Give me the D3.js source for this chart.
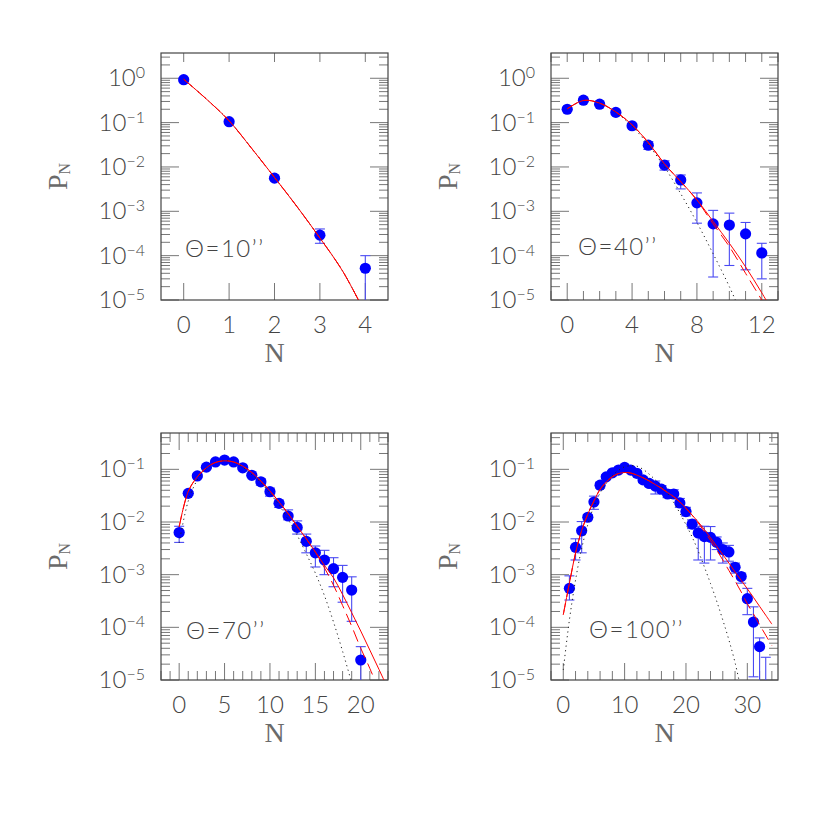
<!DOCTYPE html>
<html>
<head>
<meta charset="utf-8">
<script src="https://cdn.jsdelivr.net/npm/d3@7"></script>
<style>
body{margin:0;background:#fff;}
.tick-label{font-family:Lato,"Open Sans",sans-serif;font-weight:300;fill:#444;}
.axis-title{font-family:"Liberation Serif","DejaVu Serif",serif;fill:#6a6a6a;}
</style>
</head>
<body>
<div id="chart"></div>
<script>
// ---- Theta = 10''
var n10 = [0, 1, 2, 3, 4];
var p10 = [0.93, 0.105, 0.0056, 2.9e-4, 5.2e-5];
var lo10 = [0.87, 0.098, 0.0052, 1.9e-4, 5e-6];
var hi10 = [0.99, 0.112, 0.006, 4.0e-4, 1.0e-4];
var fitN10 = [0, 0.5, 1, 1.5, 2, 2.5, 3, 3.5, 4];
var solid10 = [0.95, 0.34, 0.11, 0.026, 0.0058, 0.00126, 2.5e-4, 4.5e-5, 5e-6];
var dashed10 = [0.95, 0.34, 0.11, 0.026, 0.0058, 0.00126, 2.5e-4, 4.5e-5, 5e-6];
var dotted10 = [0.95, 0.34, 0.11, 0.026, 0.0058, 0.00126, 2.5e-4, 4.5e-5, 5e-6];

// ---- Theta = 40''
var n40 = [0, 1, 2, 3, 4, 5, 6, 7, 8, 9, 10, 11, 12];
var p40 = [0.20, 0.32, 0.26, 0.17, 0.085, 0.031, 0.011, 0.0051, 0.00155, 5.2e-4, 4.9e-4, 3.1e-4, 1.15e-4];
var lo40 = [0.19, 0.30, 0.245, 0.16, 0.080, 0.025, 0.0085, 0.0032, 5.4e-4, 3.3e-5, 6e-5, 4.8e-5, 3e-5];
var hi40 = [0.21, 0.34, 0.275, 0.18, 0.09, 0.037, 0.0138, 0.0066, 0.0026, 1.05e-3, 9.1e-4, 5.6e-4, 1.9e-4];
var fitN40 = [0, 1, 2, 3, 4, 5, 6, 7, 8, 9, 10, 11, 12, 13];
var solid40 = [0.204, 0.316, 0.275, 0.174, 0.089, 0.0355, 0.0117, 0.00468, 0.00182, 5.9e-4, 1.9e-4, 5.6e-5, 1.45e-5, 3.5e-6];
var dashed40 = [0.204, 0.316, 0.275, 0.174, 0.089, 0.0355, 0.0117, 0.00468, 0.00178, 5.2e-4, 1.6e-4, 4.0e-5, 1.0e-5, 2.5e-6];
var dotN40 = [0, 1, 2, 3, 4, 5, 6, 7, 8, 9, 10, 11];
var dotted40 = [0.204, 0.316, 0.275, 0.17, 0.083, 0.0316, 0.01, 0.0025, 5.6e-4, 1.1e-4, 2.0e-5, 3e-6];

// ---- Theta = 70''
var n70 = [0, 1, 2, 3, 4, 5, 6, 7, 8, 9, 10, 11, 12, 13, 14, 15, 16, 17, 18, 19, 20];
var p70 = [0.0063, 0.035, 0.075, 0.11, 0.138, 0.15, 0.138, 0.107, 0.077, 0.058, 0.0376, 0.0226, 0.013, 0.0079, 0.0043, 0.0026, 0.0019, 0.0013, 0.00089, 5.1e-4, 2.4e-5];
var lo70 = [0.0041, 0.032, 0.070, 0.104, 0.131, 0.143, 0.131, 0.101, 0.072, 0.050, 0.031, 0.019, 0.011, 0.0059, 0.0026, 0.0014, 0.001, 5.9e-4, 3.0e-4, 1.3e-4, 5e-6];
var hi70 = [0.0083, 0.038, 0.080, 0.116, 0.145, 0.157, 0.145, 0.113, 0.082, 0.066, 0.044, 0.026, 0.017, 0.0105, 0.0059, 0.0035, 0.0029, 0.0021, 0.0015, 9.1e-4, 4.3e-5];
var fitN70 = [0, 1, 2, 3, 4, 5, 6, 7, 8, 9, 10, 11, 12, 13, 14, 15, 16, 17, 18, 19, 20, 21, 22, 23];
var solid70 = [0.0081, 0.038, 0.072, 0.107, 0.135, 0.145, 0.138, 0.115, 0.087, 0.060, 0.039, 0.024, 0.0145, 0.0083, 0.0048, 0.0027, 0.0015, 8.7e-4, 4.2e-4, 1.9e-4, 8.5e-5, 3.7e-5, 1.6e-5, 6.8e-6];
var dashN70 = [0, 1, 2, 3, 4, 5, 6, 7, 8, 9, 10, 11, 12, 13, 14, 15, 16, 17, 18, 19, 20, 21, 22];
var dashed70 = [0.0081, 0.038, 0.072, 0.107, 0.135, 0.145, 0.138, 0.115, 0.087, 0.060, 0.039, 0.024, 0.0145, 0.0083, 0.0048, 0.0027, 0.00135, 6.3e-4, 2.6e-4, 1.05e-4, 4.0e-5, 1.66e-5, 6.3e-6];
var dotN70 = [0, 1, 2, 3, 4, 5, 6, 7, 8, 9, 10, 11, 12, 13, 14, 15, 16, 17, 18, 19];
var dotted70 = [0.004, 0.025, 0.063, 0.105, 0.135, 0.148, 0.138, 0.11, 0.079, 0.056, 0.035, 0.021, 0.0112, 0.0056, 0.0025, 0.00107, 4.0e-4, 1.26e-4, 3.5e-5, 8.9e-6];

// ---- Theta = 100''
var n100 = [1, 2, 3, 4, 5, 6, 7, 8, 9, 10, 11, 12, 13, 14, 15, 16, 17, 18, 19, 20, 21, 22, 23, 24, 25, 26, 27, 28, 29, 30, 31, 32, 33];
var p100 = [5.5e-4, 3.3e-3, 0.0068, 0.0123, 0.024, 0.05, 0.072, 0.086, 0.097, 0.109, 0.097, 0.084, 0.063, 0.054, 0.048, 0.042, 0.034, 0.034, 0.023, 0.0158, 0.0091, 0.0062, 0.0053, 0.0051, 0.0041, 0.0030, 0.0027, 0.00138, 9.2e-4, 3.5e-4, 1.26e-4, 4.3e-5, 5e-6];
var lo100 = [3.3e-4, 1.9e-3, 2.6e-3, 0.011, 0.0174, 0.044, 0.066, 0.079, 0.089, 0.10, 0.088, 0.076, 0.056, 0.047, 0.034, 0.036, 0.029, 0.028, 0.019, 0.013, 0.0075, 0.0019, 0.00166, 0.0019, 0.0030, 0.00166, 0.0018, 0.00107, 6.9e-4, 1.74e-4, 1.15e-5, 5e-6, 5e-6];
var hi100 = [9.5e-4, 4.8e-3, 0.0102, 0.0138, 0.031, 0.056, 0.079, 0.094, 0.106, 0.118, 0.107, 0.093, 0.071, 0.062, 0.060, 0.049, 0.040, 0.041, 0.028, 0.019, 0.011, 0.0083, 0.0083, 0.0082, 0.0052, 0.004, 0.0036, 0.00166, 1.07e-3, 5.5e-4, 2.45e-4, 6.3e-5, 2.7e-5];
var fitN100 = [0, 1, 2, 3, 4, 5, 6, 7, 8, 9, 10, 11, 12, 13, 14, 15, 16, 17, 18, 19, 20, 21, 22, 23, 24, 25, 26, 27, 28, 29, 30, 31, 32, 33, 34];
var solid100 = [1.74e-4, 6.9e-4, 2.57e-3, 6.9e-3, 0.0141, 0.0251, 0.0417, 0.0575, 0.0724, 0.0832, 0.0871, 0.0851, 0.0776, 0.0692, 0.0603, 0.0513, 0.0437, 0.0363, 0.0302, 0.024, 0.0182, 0.0135, 0.01, 0.00724, 0.00501, 0.00347, 0.0024, 0.00166, 0.00112, 7.8e-4, 5.4e-4, 3.7e-4, 2.5e-4, 1.7e-4, 1.15e-4];
var dashed100 = [1.74e-4, 6.9e-4, 2.57e-3, 6.9e-3, 0.0141, 0.0251, 0.0417, 0.0575, 0.0724, 0.0832, 0.0871, 0.0851, 0.0776, 0.0692, 0.0603, 0.0513, 0.0437, 0.0363, 0.0302, 0.024, 0.0182, 0.0135, 0.00955, 0.0066, 0.00447, 0.00295, 0.0019, 0.0012, 7.6e-4, 4.7e-4, 2.8e-4, 1.8e-4, 1.12e-4, 7.1e-5, 4.5e-5];
var dotN100 = [0, 1, 2, 3, 4, 5, 6, 7, 8, 9, 10, 11, 12, 13, 14, 15, 16, 17, 18, 19, 20, 21, 22, 23, 24, 25, 26, 27, 28, 29];
var dotted100 = [1.55e-5, 1.38e-4, 7.9e-4, 3.16e-3, 8.9e-3, 0.02, 0.0355, 0.0537, 0.0759, 0.0955, 0.112, 0.117, 0.115, 0.1, 0.081, 0.063, 0.048, 0.0347, 0.0234, 0.0148, 0.0089, 0.0052, 0.0028, 0.0014, 6.8e-4, 3.16e-4, 1.38e-4, 5.75e-5, 2.14e-5, 6.3e-6];

// panel layout
var panels = [
    {left: 161, top: 53, xDom: [-0.5, 4.5], yTop: 0.57, xMajor: [0, 1, 2, 3, 4], xMinorStep: 0, topMajorLen: 9,
     label: "Θ=10’’", lx: 24, ly: 204,
     n: n10, p: p10, lo: lo10, hi: hi10,
     solid: [fitN10, solid10], dashed: [fitN10, dashed10], dotted: [fitN10, dotted10]},
    {left: 551, top: 53, xDom: [-1, 13], yTop: 0.57, xMajor: [0, 4, 8, 12], xMinorStep: 1, topMajorLen: 9,
     label: "Θ=40’’", lx: 27, ly: 202,
     n: n40, p: p40, lo: lo40, hi: hi40,
     solid: [fitN40, solid40], dashed: [fitN40, dashed40], dotted: [dotN40, dotted40]},
    {left: 161, top: 433, xDom: [-2, 23], yTop: -0.31, xMajor: [0, 5, 10, 15, 20], xMinorStep: 1, topMajorLen: 17,
     label: "Θ=70’’", lx: 25, ly: 206,
     n: n70, p: p70, lo: lo70, hi: hi70,
     solid: [fitN70, solid70], dashed: [dashN70, dashed70], dotted: [dotN70, dotted70]},
    {left: 551, top: 433, xDom: [-2, 35], yTop: -0.31, xMajor: [0, 10, 20, 30], xMinorStep: 2, topMajorLen: 17,
     label: "Θ=100’’", lx: 38, ly: 205,
     n: n100, p: p100, lo: lo100, hi: hi100,
     solid: [fitN100, solid100], dashed: [fitN100, dashed100], dotted: [dotN100, dotted100]}
];

var W = 227, H = 247;

var svg = d3.select("#chart")
    .append("svg")
    .attr("width", 830)
    .attr("height", 830);

panels.forEach(function(p, k){
    var g = svg.append("g")
        .attr("transform", "translate(" + p.left + "," + p.top + ")");

    var x = d3.scaleLinear().domain(p.xDom).range([0, W]);
    var y = d3.scaleLog().domain([1e-5, Math.pow(10, p.yTop)]).range([H, 0]);

    g.append("clipPath").attr("id", "clip" + k)
        .append("rect").attr("width", W).attr("height", H);

    // ticks
    var ticks = g.append("g").attr("stroke", "#777").attr("stroke-width", 1);
    if(p.xMinorStep > 0){
        for(var v = Math.ceil(p.xDom[0]); v <= p.xDom[1]; v += p.xMinorStep){
            if(p.xMajor.indexOf(v) >= 0) continue;
            ticks.append("line").attr("x1", x(v)).attr("x2", x(v)).attr("y1", H).attr("y2", H - 9);
            ticks.append("line").attr("x1", x(v)).attr("x2", x(v)).attr("y1", 0).attr("y2", 9);
        }
    }
    p.xMajor.forEach(function(v){
        ticks.append("line").attr("x1", x(v)).attr("x2", x(v)).attr("y1", H).attr("y2", H - 17);
        ticks.append("line").attr("x1", x(v)).attr("x2", x(v)).attr("y1", 0).attr("y2", p.topMajorLen);
        g.append("text").attr("class", "tick-label")
            .attr("x", x(v)).attr("y", H + 33)
            .attr("text-anchor", "middle")
            .attr("font-size", 24)
            .text(v);
    });

    var yDom = y.domain();
    for(var e = -5; e <= 0; e++){
        for(var m = 1; m <= 9; m++){
            var val = m * Math.pow(10, e);
            if(val < yDom[0] * 0.999 || val > yDom[1]) continue;
            var len = m == 1 ? 18 : 9;
            ticks.append("line").attr("x1", 0).attr("x2", len).attr("y1", y(val)).attr("y2", y(val));
            ticks.append("line").attr("x1", W).attr("x2", W - len).attr("y1", y(val)).attr("y2", y(val));
        }
        if(Math.pow(10, e) <= yDom[1]){
            var t = g.append("text").attr("class", "tick-label")
                .attr("x", -16).attr("y", y(Math.pow(10, e)) + 8)
                .attr("text-anchor", "end")
                .attr("font-size", 24);
            t.append("tspan").text("10");
            t.append("tspan").attr("font-size", 16).attr("dy", -8)
                .text(e == 0 ? "0" : "\u2212" + (-e));
        }
    }

    // frame
    g.append("rect").attr("width", W).attr("height", H)
        .attr("fill", "none").attr("stroke", "#444").attr("stroke-width", 1.2);

    // axis titles
    g.append("text").attr("class", "axis-title")
        .attr("x", W / 2).attr("y", H + 62)
        .attr("text-anchor", "middle")
        .attr("font-size", 28)
        .text("N");
    var yt = g.append("text").attr("class", "axis-title")
        .attr("transform", "translate(-94," + (H / 2) + ") rotate(-90)")
        .attr("text-anchor", "middle")
        .attr("font-size", 28);
    yt.append("tspan").text("P");
    yt.append("tspan").attr("font-size", 16).attr("dy", 3).text("N");

    // theta label
    g.append("text").attr("class", "tick-label")
        .attr("x", p.lx).attr("y", p.ly)
        .attr("font-size", 24)
        .attr("letter-spacing", 1.5)
        .text(p.label);

    var plot = g.append("g").attr("clip-path", "url(#clip" + k + ")");

    var pts = p.n.map(function(d, i){ return {n: d, p: p.p[i], lo: p.lo[i], hi: p.hi[i]}; });

    // error bars
    var eb = plot.append("g").attr("stroke", "#4a4af2").attr("stroke-width", 1.1).attr("fill", "none");
    pts.forEach(function(d){
        eb.append("line").attr("x1", x(d.n)).attr("x2", x(d.n)).attr("y1", y(d.lo)).attr("y2", y(d.hi));
        eb.append("line").attr("x1", x(d.n) - 5).attr("x2", x(d.n) + 5).attr("y1", y(d.lo)).attr("y2", y(d.lo));
        eb.append("line").attr("x1", x(d.n) - 5).attr("x2", x(d.n) + 5).attr("y1", y(d.hi)).attr("y2", y(d.hi));
    });

    plot.selectAll("circle")
        .data(pts)
        .enter().append("circle")
        .attr("cx", function(d){ return x(d.n); })
        .attr("cy", function(d){ return y(d.p); })
        .attr("r", 5.6)
        .attr("fill", "#0000ff");

    var line = d3.line()
        .x(function(d){ return x(d[0]); })
        .y(function(d){ return y(d[1]); })
        .curve(d3.curveCatmullRom);
    function pairs(c){ return c[0].map(function(d, i){ return [d, c[1][i]]; }); }

    plot.append("path").datum(pairs(p.dotted))
        .attr("d", line).attr("fill", "none")
        .attr("stroke", "#222").attr("stroke-width", 1)
        .attr("stroke-dasharray", "1.2,3.5");
    plot.append("path").datum(pairs(p.dashed))
        .attr("d", line).attr("fill", "none")
        .attr("stroke", "#ff0000").attr("stroke-width", 1)
        .attr("stroke-dasharray", "12,6");
    plot.append("path").datum(pairs(p.solid))
        .attr("d", line).attr("fill", "none")
        .attr("stroke", "#ff0000").attr("stroke-width", 1);
});
</script>
</body>
</html>
